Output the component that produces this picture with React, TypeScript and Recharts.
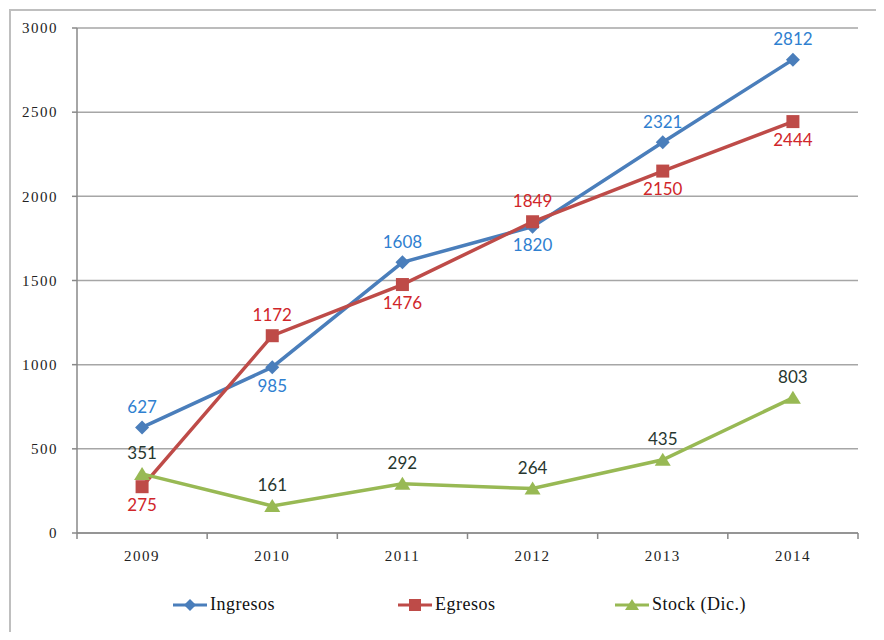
import { LineChart, Line, XAxis, YAxis, CartesianGrid, Legend, LabelList } from 'recharts';

const years = ['2009', '2010', '2011', '2012', '2013', '2014'];
const ingresos = [627, 985, 1608, 1820, 2321, 2812];
const egresos = [275, 1172, 1476, 1849, 2150, 2444];
const stock = [351, 161, 292, 264, 435, 803];
const yTicks = [0, 500, 1000, 1500, 2000, 2500, 3000];

// where each value label sits relative to its point
const ingresosPos = ['top', 'bottom', 'top', 'bottom', 'top', 'top'];
const egresosPos = ['bottom', 'top', 'bottom', 'top', 'bottom', 'bottom'];
const stockPos = ['top', 'top', 'top', 'top', 'top', 'top'];

const data = years.map((year, i) => ({
  year,
  ingresos: ingresos[i],
  egresos: egresos[i],
  stock: stock[i],
}));

const BLUE = '#4a7ebb';
const RED = '#be4b48';
const GREEN = '#98b954';
const GRID = '#a6a6a6';
const AXIS = '#888';
const serif = '"Liberation Serif", "DejaVu Serif", serif';
const sans = 'Lato, "Noto Sans", sans-serif';

const makeLabel = (positions: string[], color: string) => (props: any) => {
  const { x, y, value, index } = props;
  const below = positions[index] === 'bottom';
  return (
    <text
      x={x}
      y={below ? y + 20 : y - 19}
      textAnchor="middle"
      dominantBaseline="middle"
      fontFamily={sans}
      fontSize={17}
      fill={color}
    >
      {value}
    </text>
  );
};

const Diamond = (props: any) => {
  const { cx, cy } = props;
  if (cx == null || cy == null) return null;
  return <path d={`M${cx},${cy - 7}L${cx + 7},${cy}L${cx},${cy + 7}L${cx - 7},${cy}Z`} fill={BLUE} />;
};

const Square = (props: any) => {
  const { cx, cy } = props;
  if (cx == null || cy == null) return null;
  return <rect x={cx - 6.5} y={cy - 6.5} width={13} height={13} fill={RED} />;
};

const Triangle = (props: any) => {
  const { cx, cy } = props;
  if (cx == null || cy == null) return null;
  return <path d={`M${cx},${cy - 7}L${cx + 8},${cy + 6}L${cx - 8},${cy + 6}Z`} fill={GREEN} />;
};

// category label plus tick marks on the band edges, like Excel
const YearTick = (props: any) => {
  const { x, y, payload, index, visibleTicksCount } = props;
  const half = payload.offset || 0;
  const last = index === visibleTicksCount - 1;
  return (
    <g>
      <line x1={x - half} x2={x - half} y1={y} y2={y + 6} stroke={AXIS} strokeWidth={1.5} />
      {last && <line x1={x + half} x2={x + half} y1={y} y2={y + 6} stroke={AXIS} strokeWidth={1.5} />}
      <text
        x={x}
        y={y + 25}
        textAnchor="middle"
        dominantBaseline="middle"
        fontFamily={serif}
        fontSize={15}
        fill="#222"
        letterSpacing={1.5}
      >
        {payload.value}
      </text>
    </g>
  );
};

const legendItems = [
  { name: 'Ingresos', color: BLUE, marker: 'diamond', width: 225 },
  { name: 'Egresos', color: RED, marker: 'square', width: 217 },
  { name: 'Stock (Dic.)', color: GREEN, marker: 'triangle', width: 200 },
];

const renderLegend = () => (
  <div style={{ display: 'flex', justifyContent: 'flex-start', paddingLeft: 156, fontFamily: serif }}>
    {legendItems.map((item) => (
      <div key={item.name} style={{ display: 'flex', alignItems: 'center', width: item.width }}>
        <svg width={34} height={16}>
          <line x1={0} y1={8} x2={34} y2={8} stroke={item.color} strokeWidth={3} />
          {item.marker === 'diamond' && <path d="M17,2L23,8L17,14L11,8Z" fill={item.color} />}
          {item.marker === 'square' && <rect x={11} y={2} width={12} height={12} fill={item.color} />}
          {item.marker === 'triangle' && <path d="M17,2L24,13L10,13Z" fill={item.color} />}
        </svg>
        <span style={{ fontFamily: serif, fontSize: 18, color: '#111', marginLeft: 3, letterSpacing: 0.5 }}>
          {item.name}
        </span>
      </div>
    ))}
  </div>
);

const tickStyle = { fontFamily: serif, fontSize: 15, fill: '#222', letterSpacing: 1.5 };

export default function App() {
  return (
    <div style={{ position: 'relative', width: 884, height: 640, margin: -8, overflow: 'hidden', background: '#fff' }}>
      <div
        style={{
          position: 'absolute',
          left: 9,
          top: 9,
          width: 900,
          height: 700,
          border: '2px solid #bfbfbf',
        }}
      />
      <div style={{ position: 'absolute', left: 0, top: 0 }}>
        <LineChart width={884} height={640} data={data} margin={{ top: 28, right: 26, left: 17, bottom: 22 }}>
          <CartesianGrid vertical={false} stroke={GRID} strokeWidth={1.5} />
          <XAxis
            dataKey="year"
            scale="band"
            height={61}
            interval={0}
            axisLine={{ stroke: AXIS, strokeWidth: 1.5 }}
            tickLine={false}
            tickSize={0}
            tickMargin={0}
            tick={<YearTick />}
          />
          <YAxis
            width={60}
            domain={[0, 3000]}
            ticks={yTicks}
            interval={0}
            tickSize={5}
            tickMargin={14}
            axisLine={{ stroke: AXIS, strokeWidth: 1.5 }}
            tickLine={{ stroke: AXIS, strokeWidth: 1.5 }}
            tick={tickStyle}
          />
          <Legend verticalAlign="bottom" height={24} content={renderLegend} />
          <Line
            dataKey="ingresos"
            name="Ingresos"
            stroke={BLUE}
            strokeWidth={3.5}
            dot={<Diamond />}
            activeDot={false}
            isAnimationActive={false}
          >
            <LabelList dataKey="ingresos" content={makeLabel(ingresosPos, '#2f80d0')} />
          </Line>
          <Line
            dataKey="egresos"
            name="Egresos"
            stroke={RED}
            strokeWidth={3.5}
            dot={<Square />}
            activeDot={false}
            isAnimationActive={false}
          >
            <LabelList dataKey="egresos" content={makeLabel(egresosPos, '#d0262a')} />
          </Line>
          <Line
            dataKey="stock"
            name="Stock (Dic.)"
            stroke={GREEN}
            strokeWidth={3.5}
            dot={<Triangle />}
            activeDot={false}
            isAnimationActive={false}
          >
            <LabelList dataKey="stock" content={makeLabel(stockPos, '#27372f')} />
          </Line>
        </LineChart>
      </div>
    </div>
  );
}
